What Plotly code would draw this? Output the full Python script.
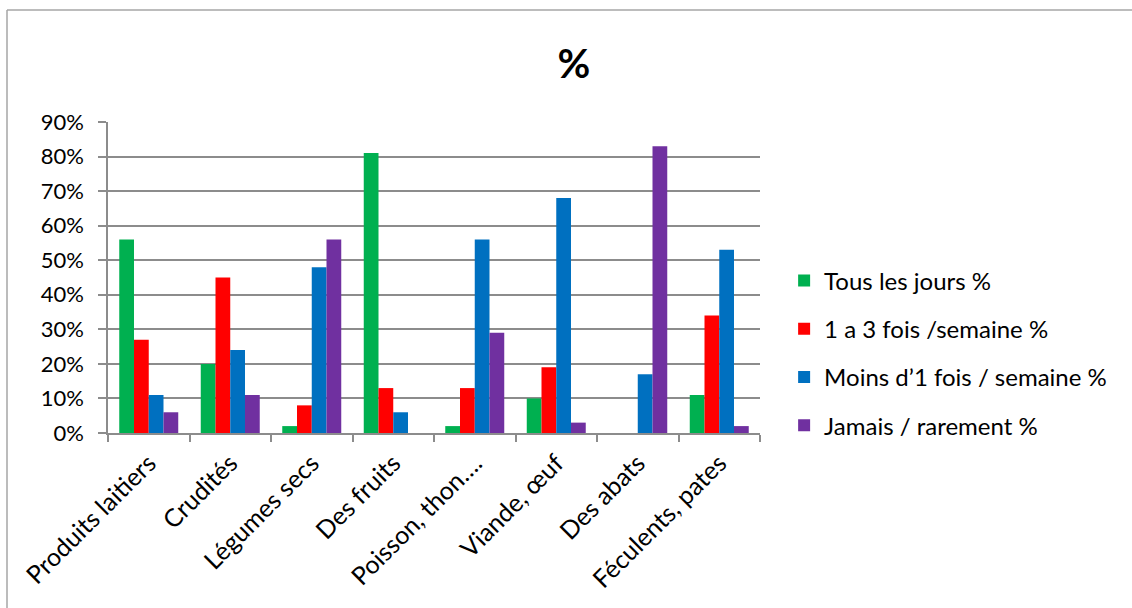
import plotly.graph_objects as go

categories = ["Produits laitiers", "Crudités", "Légumes secs", "Des fruits",
              "Poisson, thon….", "Viande, œuf", "Des abats", "Féculents, pates"]

tous_les_jours = [0.56, 0.20, 0.02, 0.81, 0.02, 0.10, 0.00, 0.11]
un_a_trois = [0.27, 0.45, 0.08, 0.13, 0.13, 0.19, 0.00, 0.34]
moins_une_fois = [0.11, 0.24, 0.48, 0.06, 0.56, 0.68, 0.17, 0.53]
jamais = [0.06, 0.11, 0.56, 0.00, 0.29, 0.03, 0.83, 0.02]

series_names = ["Tous les jours %", "1 a 3 fois /semaine %",
                "Moins d’1 fois / semaine %", "Jamais / rarement %"]
series_values = [tous_les_jours, un_a_trois, moins_une_fois, jamais]
colors = ["#00B050", "#FF0000", "#0070C0", "#7030A0"]

FONT = "Lato, 'Noto Sans', sans-serif"

fig = go.Figure()
for i, (name, vals, col) in enumerate(zip(series_names, series_values, colors)):
    fig.add_trace(go.Bar(
        x=categories, y=vals, name=name, legendgroup=str(i),
        marker=dict(color=col, line=dict(width=0)),
    ))

grid = "#8C8C8C"
fig.update_layout(
    width=1132, height=608,
    margin=dict(l=108, r=372, t=122, b=175),
    paper_bgcolor="white", plot_bgcolor="white",
    barmode="group", bargap=0.276, bargroupgap=0,
    font=dict(family=FONT, size=22, color="#000000"),
    title=dict(text="<b>%</b>", x=574 / 1132, xanchor="center",
               y=1 - 64 / 608, yanchor="middle", yref="container",
               font=dict(family=FONT, size=40, color="#000000")),
    legend=dict(x=1.037, xanchor="left", y=(433 - 353) / 311, yanchor="middle",
                font=dict(family=FONT, size=24), tracegroupgap=14,
                bgcolor="rgba(0,0,0,0)"),
    xaxis=dict(type="category", showgrid=False, showline=True,
               linecolor=grid, linewidth=1.5, ticks="outside",
               tickson="boundaries", ticklen=7, tickcolor=grid,
               tickwidth=1.5, tickangle=-45, ticklabelstandoff=4,
               tickfont=dict(family=FONT, size=25)),
    yaxis=dict(range=[0, 0.9], dtick=0.1, tickformat=".0%",
               showgrid=True, gridcolor=grid, gridwidth=1.5,
               showline=True, linecolor=grid, linewidth=1.5,
               ticks="outside", ticklen=8, tickcolor=grid, tickwidth=1.5,
               ticklabelstandoff=10,
               zeroline=False, tickfont=dict(family=FONT, size=22)),
    shapes=[
        dict(type="line", xref="paper", yref="paper",
             x0=(7 - 108) / 652, x1=(7 - 108) / 652,
             y0=(433 - 10) / 311, y1=(433 - 610) / 311,
             line=dict(color="#A6A6A6", width=1.5)),
        dict(type="line", xref="paper", yref="paper",
             x0=(7 - 108) / 652, x1=(1135 - 108) / 652,
             y0=(433 - 10) / 311, y1=(433 - 10) / 311,
             line=dict(color="#A6A6A6", width=1.5)),
    ],
)

fig.write_html("out.html")
